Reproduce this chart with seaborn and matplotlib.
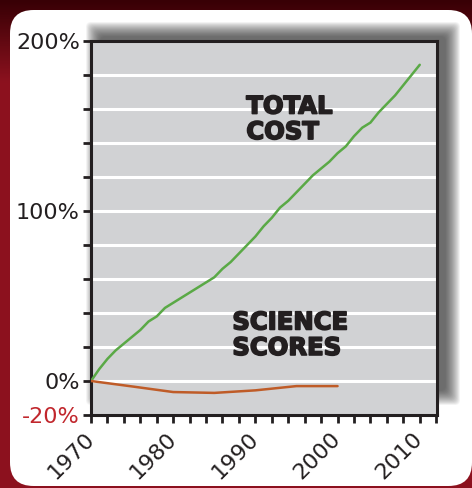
import numpy as np
import pandas as pd
import matplotlib.pyplot as plt
import seaborn as sns
import matplotlib.patheffects as pe
from matplotlib.patches import FancyBboxPatch, Rectangle

# dados
anos_custo = list(range(1970, 2011))
custo_total = [0, 7, 13, 18, 22, 26, 30, 35, 38, 43, 46, 49, 52, 55, 58, 61, 66, 70,
               75, 80, 85, 91, 96, 102, 106, 111, 116, 121, 125, 129, 134, 138, 144,
               149, 152, 158, 163, 168, 174, 180, 186]
anos_ciencia = [1970, 1975, 1980, 1985, 1990, 1995, 2000]
notas_ciencia = [0, -3.2, -6.5, -7, -5.5, -3, -3]

y_ticks = list(range(-20, 201, 20))
y_labels = {200: "200%", 100: "100%", 0: "0%", -20: "-20%"}
x_ticks = list(range(1970, 2013, 2))
x_labels = {1970: "1970", 1980: "1980", 1990: "1990", 2000: "2000", 2010: "2010"}

W, H = 472, 488
sns.set_style("ticks")
plt.rcParams['font.family'] = ['DejaVu Sans']

fig = plt.figure(figsize=(W / 100, H / 100), dpi=100)

# fundo vermelho escuro com gradiente
bg = fig.add_axes([0, 0, 1, 1], zorder=-10)
grad = np.linspace(0, 1, 200).reshape(-1, 1)
grad = np.clip(grad * 6, 0, 1)
c_top = np.array([0.22, 0.0, 0.02])
c_low = np.array([0.55, 0.07, 0.12])
img = c_top[None, None, :] * (1 - grad[:, :, None]) + c_low[None, None, :] * grad[:, :, None]
bg.imshow(img, aspect='auto', extent=[0, 1, 0, 1], origin='upper')
bg.axis('off')

def px(x0, y0, x1, y1):
    # pixels (origem em cima) -> coordenadas da figura
    return x0 / W, 1 - y1 / H, (x1 - x0) / W, (y1 - y0) / H

# painel branco arredondado
x, y, w, h = px(10, 10, 472, 486)
painel = FancyBboxPatch((x, y), w, h, boxstyle="round,pad=0,rounding_size=0.05",
                        transform=fig.transFigure, facecolor='white', edgecolor='none',
                        zorder=-5, mutation_aspect=W / H)
fig.add_artist(painel)

# sombra suave atras da area do grafico
L, T, R, B = 91, 41, 437, 415
n = 30
for i in range(n):
    g = (n - i) * 0.5
    x, y, w, h = px(L + 10 - g, T - 4 - g, R + 8 + g, B - 25 + g)
    fig.add_artist(FancyBboxPatch((x, y), w, h, boxstyle="round,pad=0,rounding_size=0.01",
                                  transform=fig.transFigure, facecolor='#303030',
                                  edgecolor='none', alpha=0.035, zorder=-4))

ax = fig.add_axes(px(L, T, R, B))
ax.set_facecolor('#d1d2d4')

df_custo = pd.DataFrame({'ano': anos_custo, 'valor': custo_total})
df_ciencia = pd.DataFrame({'ano': anos_ciencia, 'valor': notas_ciencia})
for v in y_ticks[1:-1]:
    ax.axhline(v, color='white', lw=2.2, zorder=1)
sns.lineplot(data=df_custo, x='ano', y='valor', ax=ax, color='#5aa946', lw=1.8, zorder=3)
sns.lineplot(data=df_ciencia, x='ano', y='valor', ax=ax, color='#bf5c28', lw=1.8, zorder=3)

ax.set_xlim(1970, 2012.1)
ax.set_ylim(-20, 200)
ax.set_xlabel('')
ax.set_ylabel('')

ax.set_yticks(y_ticks)
ax.set_yticklabels([y_labels.get(v, '') for v in y_ticks], fontsize=16, color='#231f20')
for lab, v in zip(ax.get_yticklabels(), y_ticks):
    if v == -20:
        lab.set_color('#c1272d')
ax.set_xticks(x_ticks)
ax.set_xticklabels([x_labels.get(v, '') for v in x_ticks], fontsize=16, color='#231f20',
                   rotation=45, ha='right', va='center', rotation_mode='anchor')
ax.tick_params(axis='both', direction='out', length=6, width=2, color='#231f20', pad=2)
ax.tick_params(axis='x', pad=9)

for s in ax.spines.values():
    s.set_visible(True)
    s.set_linewidth(2.2)
    s.set_color('#231f20')

grosso = [pe.withStroke(linewidth=1.2, foreground='#231f20')]
ax.text(1988.9, 168.5, "TOTAL\nCOST", fontsize=17.5, fontweight='heavy', color='#231f20',
        ha='left', va='top', linespacing=1.08, zorder=4, path_effects=grosso)
ax.text(1987.2, 41.5, "SCIENCE\nSCORES", fontsize=17.5, fontweight='heavy', color='#231f20',
        ha='left', va='top', linespacing=1.08, zorder=4, path_effects=grosso)

plt.savefig("out.png", dpi=100)
